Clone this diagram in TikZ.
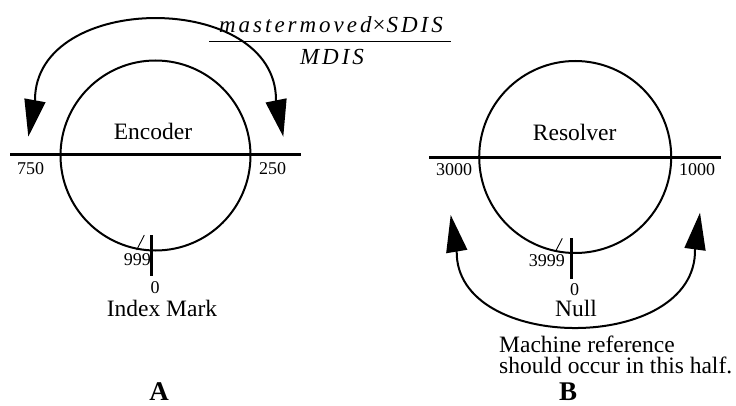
\documentclass[tikz,border=0pt]{standalone}
\usepackage{fontspec}
\setmainfont{Liberation Serif}
\newfontfamily\fracfont[LetterSpace=13]{Liberation Serif}
\usetikzlibrary{arrows.meta, calc}

\tikzset{
  bigtext/.style={font=\fontsize{23.5}{24}\selectfont, inner sep=0pt},
  numtext/.style={font=\fontsize{18}{18}\selectfont, inner sep=0pt},
  fractext/.style={font=\fracfont\fontsize{23}{23}\selectfont\itshape, inner sep=0pt},
  lettertext/.style={font=\fontsize{27}{27}\selectfont\bfseries, inner sep=0pt},
  wheel/.style={line width=2pt},
  axisline/.style={line width=3pt},
  marker/.style={line width=3pt},
  slash/.style={line width=0.9pt},
  swing/.style={line width=2pt, {Triangle[length=37pt,width=21pt]}-{Triangle[length=37pt,width=21pt]}},
}

\begin{document}
\begin{tikzpicture}[x=1pt, y=-1pt]
        \useasboundingbox (0,0) rectangle (736,406);
        % A: Encoder
        \coordinate (encc) at (155.5,155.5);
        \draw[wheel] (encc) circle[radius=95pt];
        \coordinate (encl) at (10,154.3);
        \coordinate (encr) at (301,154.3);
        \draw[axisline] (encl) -- (encr);
        % Bogen oben
        \coordinate (enctipl) at (28.3,136.7);
        \coordinate (encbasel) at (35,100);
        \coordinate (encbaser) at (276,100);
        \coordinate (enctipr) at (283.3,136.7);
        \draw[swing] (enctipl) -- (encbasel) .. controls (35,-9.3) and (276,-9.3) .. (encbaser) -- (enctipr);
        % Index Mark
        \coordinate (encmt) at (151.7,235);
        \coordinate (encmb) at (151.7,276);
        \draw[marker] (encmt) -- (encmb);
        \coordinate (encst) at (144.3,235);
        \coordinate (encsb) at (136.7,250);
        \draw[slash] (encst) -- (encsb);
        \node[bigtext, anchor=base] (enc) at (153,140) {Encoder};
        \node[numtext, anchor=base west] (enc750) at (17,175) {750};
        \node[numtext, anchor=base west] (enc250) at (259,175) {250};
        \node[numtext, anchor=base east] (enc999) at (151,265.7) {999};
        \node[numtext, anchor=base] (enc0) at (155,293) {0};
        \node[bigtext, anchor=base] (index) at (162,316) {Index Mark};
        \node[lettertext, anchor=base] (labela) at (159,400) {A};
        % Bruch
        \node[fractext, anchor=base] (num) at (331,32.7) {mastermoved\kern1pt{\upshape ×}\kern1pt SDIS};
        \node[fractext, anchor=base] (den) at (332,65) {MDIS};
        \coordinate (barl) at (209,41.7);
        \coordinate (barr) at (451,41.7);
        \draw[line width=1.3pt] (barl) -- (barr);
        % B: Resolver
        \coordinate (resc) at (575.2,157);
        \draw[wheel] (resc) circle[radius=96pt];
        \coordinate (resl) at (429,157.3);
        \coordinate (resr) at (720.7,157.3);
        \draw[axisline] (resl) -- (resr);
        % Bogen unten
        \coordinate (restipl) at (450.7,215);
        \coordinate (resbasel) at (456.7,251);
        \coordinate (resbaser) at (695,249.3);
        \coordinate (restipr) at (700,212.7);
        \draw[swing] (restipl) -- (resbasel) .. controls (455,354) and (697,354) .. (resbaser) -- (restipr);
        % Null
        \coordinate (resmt) at (571.3,238.3);
        \coordinate (resmb) at (571.3,279.3);
        \draw[marker] (resmt) -- (resmb);
        \coordinate (resst) at (562.3,238.3);
        \coordinate (ressb) at (556.3,250);
        \draw[slash] (resst) -- (ressb);
        \node[bigtext, anchor=base] (res) at (574.7,141) {Resolver};
        \node[numtext, anchor=base west] (res3000) at (436,176) {3000};
        \node[numtext, anchor=base west] (res1000) at (679,176) {1000};
        \node[numtext, anchor=base east] (res3999) at (565,266.7) {3999};
        \node[numtext, anchor=base] (res0) at (574.7,295.5) {0};
        \node[bigtext, anchor=base] (null) at (576,316) {Null};
        \node[bigtext, anchor=base west] (mref) at (499,352.5) {Machine reference};
        \node[bigtext, anchor=base west] (mhalf) at (499,373.5) {should occur in this half.};
        \node[lettertext, anchor=base] (labelb) at (568,400) {B};
      \end{tikzpicture}
\end{document}
